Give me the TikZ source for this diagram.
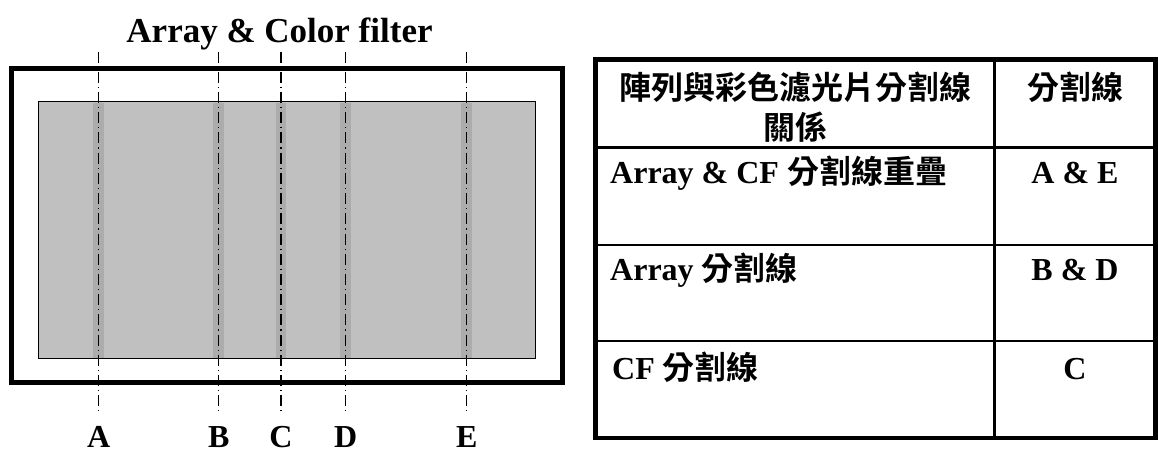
\documentclass[tikz,border=0pt]{standalone}
\usepackage{fontspec}
\setmainfont{Liberation Serif}
\newfontfamily\cjk{Noto Sans CJK TC}[BoldFont=* Bold]
\definecolor{panel}{RGB}{192,192,192}
\definecolor{stripc}{RGB}{172,172,172}
\begin{document}
\begin{tikzpicture}[x=1pt,y=-1pt,
  lbl/.style={font=\fontsize{32}{38}\selectfont\bfseries, inner sep=0pt},
  ttl/.style={font=\fontsize{35}{40}\selectfont\bfseries, inner sep=0pt},
  cell/.style={font=\fontsize{32}{39}\selectfont\bfseries, inner sep=0pt},
  cut/.style={line width=1.2pt, dash pattern=on 11pt off 4pt on 1.2pt off 4pt},
  frame/.style={line width=5pt},
  tframe/.style={line width=4.5pt},
  tline/.style={line width=2.5pt}]
\useasboundingbox (0,0) rectangle (1158,457);
% title
\node[ttl, anchor=base] (title) at (279.5,42.7) {Array \& Color filter};
% outer frame and panel
\draw[frame] (11.8,68.5) rectangle (562.5,382.5);
\draw[fill=panel, line width=1pt] (38.3,102) rectangle (535,358.3);
% cut lines
\foreach \x/\n in {98.7/A, 218.7/B, 281/C, 345.7/D, 466.7/E}{
  \fill[stripc] (\x-5.3,102.6) rectangle (\x+5.3,357.7);
  \coordinate (t\n) at (\x,51.7);
  \coordinate (b\n) at (\x,411.7);
  \draw[cut] (t\n) -- (b\n);
  \node[lbl, anchor=base] (l\n) at (\x,447) {\n};
}
% table
\draw[tframe] (595.5,59.7) rectangle (1155.5,438);
\coordinate (ct) at (994.3,59.7);
\coordinate (cb) at (994.3,438);
\draw[tline] (ct) -- (cb);
\foreach \y/\n in {147.7/1, 245/2, 341/3}{
  \coordinate (rl\n) at (595.5,\y);
  \coordinate (rr\n) at (1155.5,\y);
  \draw[tline] (rl\n) -- (rr\n);
}
\node[cell, anchor=base] (h1a) at (795,100) {\cjk 陣列與彩色濾光片分割線};
\node[cell, anchor=base] (h1b) at (795,139.5) {\cjk 關係};
\node[cell, anchor=base] (h2) at (1075,100) {\cjk 分割線};
\node[cell, anchor=base west] (r1) at (610,183) {Array \& CF {\cjk 分割線重疊}};
\node[cell, anchor=base] (v1) at (1075,183) {A \& E};
\node[cell, anchor=base west] (r2) at (610,280) {Array {\cjk 分割線}};
\node[cell, anchor=base] (v2) at (1075,280) {B \& D};
\node[cell, anchor=base west] (r3) at (612,379) {CF {\cjk 分割線}};
\node[cell, anchor=base] (v3) at (1075,379) {C};
\end{tikzpicture}
\end{document}
